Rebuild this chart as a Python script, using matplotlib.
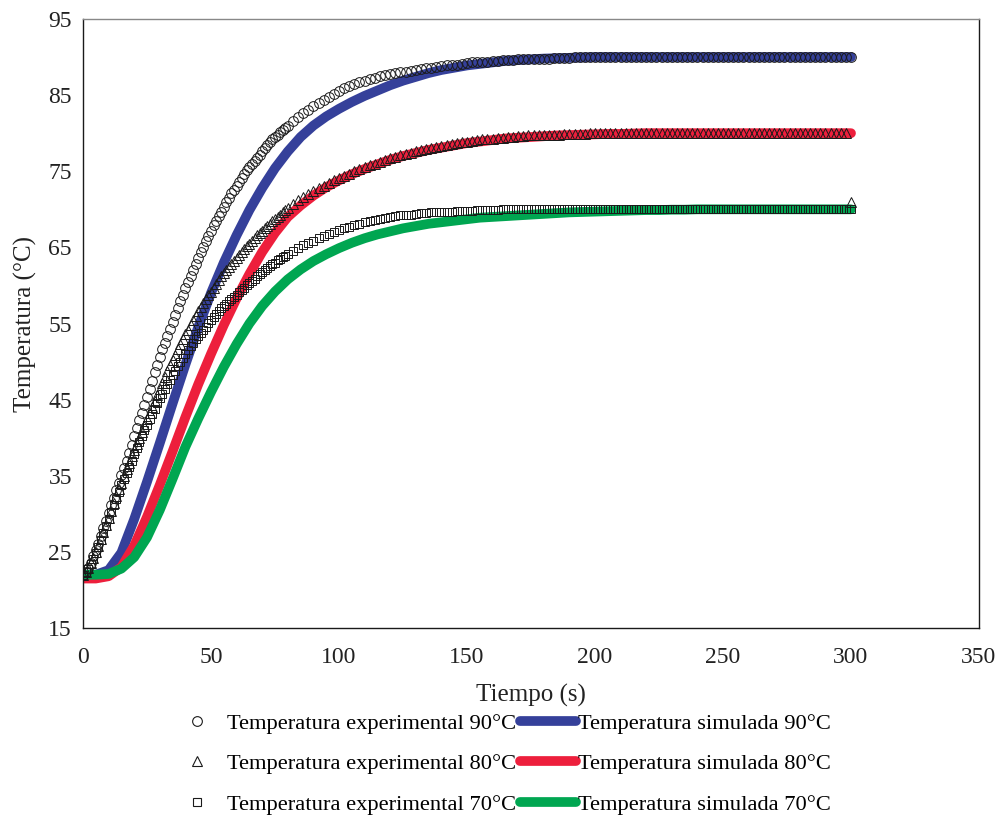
import numpy as np
import matplotlib
matplotlib.use("Agg")
import matplotlib.pyplot as plt
from matplotlib.lines import Line2D

# ---------------- data ----------------
# experimental time base: 1 s steps up to 80 s, then 2 s steps up to 300 s
t_exp = np.concatenate([np.arange(0, 81, 1), np.arange(82, 301, 2)])

exp_90 = [
    22.0, 22.3, 22.9, 23.6, 24.4, 25.2, 26.1, 27.1, 28.1, 29.1,
    30.1, 31.1, 32.1, 33.1, 34.1, 35.1, 36.0, 37.0, 38.0, 39.1,
    40.2, 41.3, 42.3, 43.3, 44.3, 45.3, 46.4, 47.5, 48.6, 49.6,
    50.6, 51.6, 52.5, 53.4, 54.3, 55.2, 56.1, 57.0, 57.9, 58.8,
    59.6, 60.4, 61.2, 62.0, 62.8, 63.6, 64.4, 65.1, 65.8, 66.5,
    67.2, 67.9, 68.5, 69.1, 69.7, 70.3, 70.9, 71.5, 72.1, 72.6,
    73.1, 73.6, 74.1, 74.6, 75.1, 75.6, 76.0, 76.4, 76.8, 77.2,
    77.6, 78.0, 78.4, 78.8, 79.2, 79.5, 79.8, 80.1, 80.4, 80.7,
    81.0,
    81.6, 82.1, 82.6, 83.1, 83.6, 84.0, 84.4, 84.8, 85.2, 85.6,
    85.9, 86.2, 86.5, 86.7, 86.9, 87.1, 87.3, 87.5, 87.7, 87.8,
    87.9, 88.0, 88.1, 88.2, 88.3, 88.4, 88.5, 88.6, 88.7, 88.8,
    88.9, 89.0, 89.0, 89.1, 89.2, 89.3, 89.3, 89.4, 89.4, 89.5,
    89.5, 89.6, 89.6, 89.6, 89.7, 89.7, 89.7, 89.8, 89.8, 89.8,
    89.8, 89.9, 89.9, 89.9, 89.9, 90.0,
    90.0, 90.0, 90.0, 90.0, 90.0, 90.0, 90.0, 90.0, 90.0, 90.0,
    90.0, 90.0, 90.0, 90.0, 90.0, 90.0, 90.0, 90.0, 90.0, 90.0,
    90.0, 90.0, 90.0, 90.0, 90.0, 90.0, 90.0, 90.0, 90.0, 90.0,
    90.0, 90.0, 90.0, 90.0, 90.0, 90.0, 90.0, 90.0, 90.0, 90.0,
    90.0, 90.0, 90.0, 90.0, 90.0, 90.0, 90.0, 90.0, 90.0, 90.0,
    90.0, 90.0, 90.0, 90.0,
]

exp_80 = [
    22.0, 22.4, 22.9, 23.5, 24.2, 25.0, 25.8, 26.7, 27.6, 28.5,
    29.5, 30.4, 31.4, 32.3, 33.2, 34.1, 35.0, 35.9, 36.7, 37.6,
    38.4, 39.2, 40.0, 40.8, 41.6, 42.4, 43.2, 44.0, 44.8, 45.6,
    46.4, 47.2, 48.0, 48.7, 49.5, 50.2, 50.9, 51.6, 52.3, 53.0,
    53.6, 54.2, 54.8, 55.4, 56.0, 56.6, 57.2, 57.7, 58.2, 58.7,
    59.2, 59.7, 60.2, 60.7, 61.2, 61.6, 62.0, 62.4, 62.8, 63.2,
    63.6, 64.0, 64.4, 64.8, 65.2, 65.5, 65.9, 66.2, 66.6, 66.9,
    67.2, 67.5, 67.8, 68.1, 68.4, 68.7, 69.0, 69.3, 69.6, 69.9,
    70.2,
    70.7, 71.2, 71.6, 72.0, 72.4, 72.8, 73.1, 73.5, 73.8, 74.1,
    74.4, 74.7, 75.0, 75.3, 75.5, 75.8, 76.0, 76.2, 76.5, 76.7,
    76.9, 77.1, 77.3, 77.4, 77.6, 77.8, 77.9, 78.1, 78.2, 78.3,
    78.5, 78.6, 78.7, 78.8, 78.9, 79.0, 79.1, 79.2, 79.2, 79.3,
    79.4, 79.4, 79.5, 79.5, 79.6, 79.6, 79.7, 79.7, 79.7, 79.8,
    79.8, 79.8, 79.8, 79.9, 79.9, 79.9, 79.9, 79.9,
    80.0, 80.0, 80.0, 80.0, 80.0, 80.0, 80.0, 80.0, 80.0, 80.0,
    80.0, 80.0, 80.0, 80.0, 80.0, 80.0, 80.0, 80.0, 80.0, 80.0,
    80.0, 80.0, 80.0, 80.0, 80.0, 80.0, 80.0, 80.0, 80.0, 80.0,
    80.0, 80.0, 80.0, 80.0, 80.0, 80.0, 80.0, 80.0, 80.0, 80.0,
    80.0, 80.0, 80.0, 80.0, 80.0, 80.0, 80.0, 80.0, 80.0, 80.0,
    80.0, 71.0,
]

exp_70 = [
    22.0, 22.3, 22.8, 23.4, 24.1, 24.9, 25.7, 26.6, 27.5, 28.4,
    29.3, 30.2, 31.1, 32.0, 32.9, 33.8, 34.6, 35.4, 36.2, 37.0,
    37.8, 38.6, 39.4, 40.2, 41.0, 41.7, 42.4, 43.1, 43.8, 44.5,
    45.2, 45.8, 46.4, 47.0, 47.6, 48.2, 48.8, 49.4, 50.0, 50.5,
    51.0, 51.5, 52.0, 52.5, 53.0, 53.4, 53.8, 54.2, 54.6, 55.0,
    55.4, 55.8, 56.2, 56.6, 57.0, 57.3, 57.6, 57.9, 58.2, 58.5,
    58.8, 59.1, 59.4, 59.7, 60.0, 60.3, 60.6, 60.9, 61.2, 61.5,
    61.8, 62.0, 62.3, 62.5, 62.8, 63.0, 63.3, 63.5, 63.7, 63.9,
    64.1,
    64.5, 64.9, 65.3, 65.6, 65.9, 66.2, 66.5, 66.8, 67.0, 67.3,
    67.5, 67.7, 67.9, 68.1, 68.3, 68.4, 68.6, 68.7, 68.8, 69.0,
    69.1, 69.2, 69.3, 69.3, 69.4, 69.5, 69.5, 69.6, 69.6, 69.7,
    69.7, 69.7, 69.8, 69.8, 69.8, 69.8, 69.9, 69.9, 69.9, 69.9,
    69.9, 70.0,
    70.0, 70.0, 70.0, 70.0, 70.0, 70.0, 70.0, 70.0, 70.0, 70.0,
    70.0, 70.0, 70.0, 70.0, 70.0, 70.0, 70.0, 70.0, 70.0, 70.0,
    70.0, 70.0, 70.0, 70.0, 70.0, 70.0, 70.0, 70.0, 70.0, 70.0,
    70.0, 70.0, 70.0, 70.0, 70.0, 70.0, 70.0, 70.0, 70.0, 70.0,
    70.0, 70.0, 70.0, 70.0, 70.0, 70.0, 70.0, 70.0, 70.0, 70.0,
    70.0, 70.0, 70.0, 70.0, 70.0, 70.0, 70.0, 70.0, 70.0, 70.0,
    70.0, 70.0, 70.0, 70.0, 70.0, 70.0, 70.0, 70.0,
]

# simulated time base: every 5 s
t_sim = np.arange(0, 301, 5)

sim_90 = [
    22.0, 22.0, 22.6, 24.9, 29.3, 34.2, 39.3, 44.5, 49.6, 54.5,
    59.0, 63.0, 66.6, 69.9, 72.8, 75.4, 77.6, 79.5, 81.0, 82.2,
    83.2, 84.1, 84.9, 85.6, 86.3, 86.9, 87.4, 87.9, 88.3, 88.6,
    88.9, 89.1, 89.3, 89.5, 89.6, 89.7, 89.8, 89.85, 89.9, 89.95,
    90.0, 90.0, 90.0, 90.0, 90.0, 90.0, 90.0, 90.0, 90.0, 90.0,
    90.0, 90.0, 90.0, 90.0, 90.0, 90.0, 90.0, 90.0, 90.0, 90.0,
    90.0,
]

sim_80 = [
    21.5, 21.5, 21.8, 23.0, 25.8, 29.6, 33.8, 38.2, 42.7, 47.0,
    51.0, 54.8, 58.3, 61.5, 64.4, 66.9, 69.0, 70.5, 71.8, 72.9,
    73.8, 74.6, 75.3, 75.9, 76.5, 77.0, 77.4, 77.8, 78.1, 78.4,
    78.7, 78.9, 79.1, 79.3, 79.4, 79.5, 79.6, 79.7, 79.75, 79.8,
    79.85, 79.9, 79.9, 79.95, 80.0, 80.0, 80.0, 80.0, 80.0, 80.0,
    80.0, 80.0, 80.0, 80.0, 80.0, 80.0, 80.0, 80.0, 80.0, 80.0,
    80.0,
]

sim_70 = [
    22.0, 22.0, 22.1, 22.8, 24.3, 26.9, 30.5, 34.6, 38.8, 42.5,
    46.0, 49.3, 52.3, 55.0, 57.3, 59.2, 60.8, 62.1, 63.2, 64.1,
    64.9, 65.6, 66.2, 66.7, 67.1, 67.5, 67.8, 68.1, 68.3, 68.5,
    68.7, 68.9, 69.0, 69.1, 69.2, 69.3, 69.4, 69.5, 69.6, 69.65,
    69.7, 69.75, 69.8, 69.85, 69.9, 69.9, 69.95, 69.95, 70.0, 70.0,
    70.0, 70.0, 70.0, 70.0, 70.0, 70.0, 70.0, 70.0, 70.0, 70.0,
    70.0,
]

labels_exp = ["Temperatura experimental 90°C",
              "Temperatura experimental 80°C",
              "Temperatura experimental 70°C"]
labels_sim = ["Temperatura simulada 90°C",
              "Temperatura simulada 80°C",
              "Temperatura simulada 70°C"]
x_ticks = [0, 50, 100, 150, 200, 250, 300, 350]
y_ticks = [15, 25, 35, 45, 55, 65, 75, 85, 95]

# ---------------- style ----------------
plt.rcParams['font.family'] = ['Liberation Serif', 'DejaVu Serif']
c_blue, c_red, c_green = '#35409a', '#ed1f3c', '#00a651'
sim_colors = [c_blue, c_red, c_green]
markers = ['o', '^', 's']
msizes = [7.0, 6.5, 6.0]

fig = plt.figure(figsize=(10.03, 8.16), dpi=100)
ax = fig.add_axes([83 / 1003, 1 - 628 / 816, (979 - 83) / 1003, (628 - 19) / 816])

sims = [sim_90, sim_80, sim_70]
exps = [exp_90, exp_80, exp_70]
for s, c in zip(sims, sim_colors):
    ax.plot(t_sim, s, color=c, lw=7.0, solid_capstyle='round',
            solid_joinstyle='round', zorder=2)
for e, m, ms in zip(exps, markers, msizes):
    ax.plot(t_exp, e, linestyle='none', marker=m, ms=ms, mfc='none',
            mec='#1a1a1a', mew=0.7, zorder=3)

ax.set_xlim(0, 350)
ax.set_ylim(15, 95)
ax.set_xticks(x_ticks)
ax.set_yticks(y_ticks)
ax.tick_params(axis='both', length=0, labelsize=17, colors='#222222')
ax.tick_params(axis='x', pad=14)
ax.tick_params(axis='y', pad=8)
for sp in ax.spines.values():
    sp.set_color('#1a1a1a')
    sp.set_linewidth(1.0)
ax.spines['top'].set_color('#888888')

ax.set_xlabel('Tiempo (s)', fontsize=18, labelpad=11, color='#222222')
ax.set_ylabel('Temperatura (°C)', fontsize=18, labelpad=8, color='#222222')

# legend (column-major order for ncol=2)
handles = []
for m, ms in zip(markers, msizes):
    handles.append(Line2D([], [], linestyle='none', marker=m, ms=ms, mfc='none',
                          mec='#1a1a1a', mew=0.8))
for c in sim_colors:
    handles.append(Line2D([], [], color=c, lw=7.0, solid_capstyle='round'))
fig.legend(handles, labels_exp + labels_sim, ncol=2, frameon=False,
           loc='upper left', bbox_to_anchor=(169 / 1003, 1 - 713 / 816),
           fontsize=16.2, handlelength=2.5, handletextpad=0.1,
           columnspacing=0.13, labelspacing=0.88, borderpad=0,
           borderaxespad=0)

fig.savefig('out.png', dpi=100)
